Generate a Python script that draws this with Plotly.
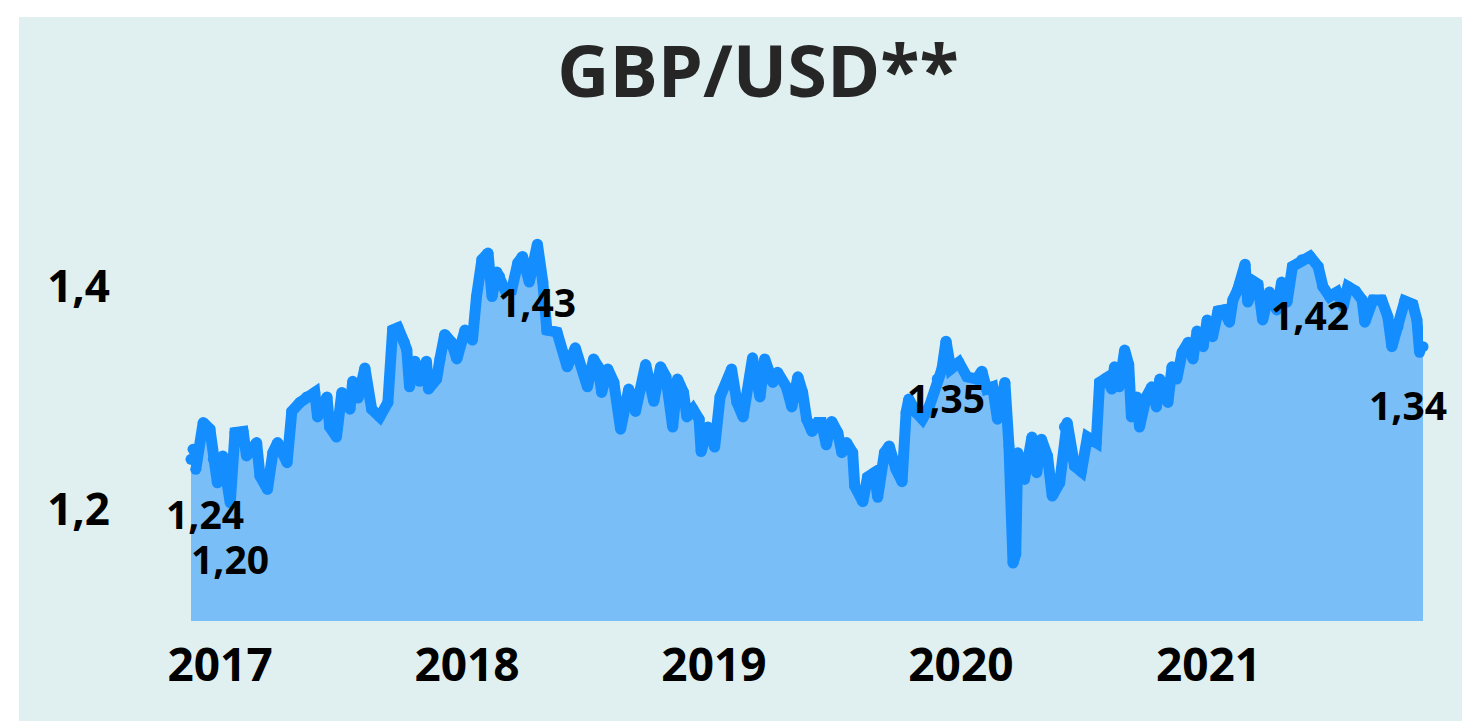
import plotly.graph_objects as go

dates = [
    "2016-11-19", "2016-11-22", "2016-11-26", "2016-12-07", "2016-12-17", "2016-12-22", "2016-12-28",
    "2017-01-05", "2017-01-16", "2017-01-23", "2017-02-04", "2017-02-09", "2017-02-24", "2017-03-01",
    "2017-03-12", "2017-03-20", "2017-03-27", "2017-04-10", "2017-04-17", "2017-04-29", "2017-05-09",
    "2017-05-21", "2017-05-25", "2017-06-08", "2017-06-12", "2017-06-22", "2017-06-30", "2017-07-12",
    "2017-07-16", "2017-07-24", "2017-08-03", "2017-08-13", "2017-08-25", "2017-09-06", "2017-09-13",
    "2017-09-21", "2017-09-30", "2017-10-04", "2017-10-08", "2017-10-16", "2017-10-23", "2017-11-02",
    "2017-11-05", "2017-11-17", "2017-11-22", "2017-11-29", "2017-12-09", "2017-12-17", "2017-12-29",
    "2018-01-09", "2018-01-15", "2018-01-23", "2018-02-01", "2018-02-07", "2018-02-14", "2018-02-18",
    "2018-02-26", "2018-03-08", "2018-03-17", "2018-03-24", "2018-04-03", "2018-04-15", "2018-04-23",
    "2018-04-29", "2018-05-14", "2018-05-29", "2018-06-10", "2018-06-28", "2018-07-07", "2018-07-14",
    "2018-07-19", "2018-07-28", "2018-08-06", "2018-08-16", "2018-08-28", "2018-09-07", "2018-09-22",
    "2018-10-04", "2018-10-14", "2018-10-22", "2018-11-01", "2018-11-08", "2018-11-17", "2018-11-22",
    "2018-12-01", "2018-12-10", "2018-12-13", "2018-12-23", "2019-01-02", "2019-01-10", "2019-01-27",
    "2019-02-04", "2019-02-13", "2019-02-27", "2019-03-10", "2019-03-17", "2019-03-29", "2019-04-05",
    "2019-04-18", "2019-04-26", "2019-05-05", "2019-05-12", "2019-05-18", "2019-05-26", "2019-06-03",
    "2019-06-09", "2019-06-16", "2019-06-24", "2019-07-03", "2019-07-09", "2019-07-16", "2019-07-25",
    "2019-07-28", "2019-08-09", "2019-08-16", "2019-08-26", "2019-08-31", "2019-09-10", "2019-09-17",
    "2019-09-27", "2019-10-06", "2019-10-12", "2019-10-16", "2019-10-27", "2019-11-05", "2019-11-15",
    "2019-11-27", "2019-12-04", "2019-12-10", "2019-12-17", "2019-12-29", "2020-01-10", "2020-01-24",
    "2020-02-01", "2020-02-08", "2020-02-17", "2020-02-24", "2020-03-06", "2020-03-12", "2020-03-18",
    "2020-03-22", "2020-03-25", "2020-04-04", "2020-04-15", "2020-04-22", "2020-04-29", "2020-05-08",
    "2020-05-15", "2020-05-26", "2020-06-02", "2020-06-06", "2020-06-17", "2020-06-27", "2020-07-06",
    "2020-07-19", "2020-07-24", "2020-08-03", "2020-08-11", "2020-08-15", "2020-08-22", "2020-08-30",
    "2020-09-05", "2020-09-09", "2020-09-17", "2020-09-21", "2020-10-01", "2020-10-09", "2020-10-16",
    "2020-10-21", "2020-11-02", "2020-11-08", "2020-11-15", "2020-11-23", "2020-12-02", "2020-12-09",
    "2020-12-15", "2020-12-24", "2020-12-30", "2021-01-07", "2021-01-15", "2021-01-23", "2021-02-01",
    "2021-02-06", "2021-02-13", "2021-02-24", "2021-02-28", "2021-03-10", "2021-03-15", "2021-03-22",
    "2021-04-01", "2021-04-12", "2021-04-19", "2021-04-27", "2021-05-05", "2021-05-19", "2021-05-31",
    "2021-06-12", "2021-06-19", "2021-06-29", "2021-07-10", "2021-07-19", "2021-07-26", "2021-08-06",
    "2021-08-16", "2021-08-20", "2021-09-01", "2021-09-14", "2021-09-23", "2021-09-29", "2021-10-08",
    "2021-10-18", "2021-10-30", "2021-11-05", "2021-11-09", "2021-11-14",
]

gbpusd = [
    1.245, 1.254, 1.236, 1.278, 1.272, 1.245, 1.224,
    1.248, 1.206, 1.269, 1.270, 1.248, 1.260, 1.230,
    1.218, 1.251, 1.260, 1.242, 1.288, 1.296, 1.301,
    1.305, 1.283, 1.301, 1.274, 1.265, 1.305, 1.290,
    1.315, 1.300, 1.327, 1.290, 1.283, 1.296, 1.361,
    1.363, 1.350, 1.343, 1.310, 1.333, 1.315, 1.333,
    1.308, 1.317, 1.335, 1.357, 1.350, 1.335, 1.361,
    1.352, 1.391, 1.424, 1.430, 1.391, 1.413, 1.409,
    1.397, 1.397, 1.421, 1.427, 1.404, 1.438, 1.404,
    1.361, 1.359, 1.328, 1.345, 1.310, 1.335, 1.328,
    1.305, 1.326, 1.314, 1.272, 1.308, 1.288, 1.330,
    1.297, 1.328, 1.319, 1.274, 1.317, 1.305, 1.283,
    1.290, 1.281, 1.252, 1.274, 1.256, 1.301, 1.326,
    1.296, 1.283, 1.336, 1.301, 1.335, 1.314, 1.323,
    1.310, 1.292, 1.319, 1.305, 1.281, 1.270, 1.278,
    1.278, 1.258, 1.279, 1.269, 1.251, 1.260, 1.251,
    1.221, 1.207, 1.229, 1.233, 1.211, 1.251, 1.257,
    1.236, 1.225, 1.287, 1.299, 1.287, 1.281, 1.292,
    1.317, 1.326, 1.351, 1.326, 1.332, 1.319, 1.317,
    1.324, 1.308, 1.310, 1.281, 1.314, 1.257, 1.152,
    1.160, 1.251, 1.227, 1.265, 1.233, 1.263, 1.248,
    1.212, 1.224, 1.274, 1.278, 1.239, 1.234, 1.265,
    1.260, 1.314, 1.318, 1.308, 1.328, 1.310, 1.343,
    1.330, 1.283, 1.301, 1.274, 1.301, 1.310, 1.292,
    1.317, 1.296, 1.328, 1.317, 1.341, 1.350, 1.335,
    1.360, 1.346, 1.370, 1.355, 1.378, 1.379, 1.368,
    1.388, 1.397, 1.420, 1.386, 1.404, 1.402, 1.370,
    1.395, 1.379, 1.404, 1.386, 1.418, 1.424, 1.427,
    1.418, 1.400, 1.391, 1.395, 1.382, 1.400, 1.396,
    1.388, 1.368, 1.388, 1.388, 1.373, 1.346, 1.364,
    1.387, 1.384, 1.370, 1.341, 1.346,
]

# labelled points (date of the point in the series, label text)
label_dates = ["2016-11-19", "2017-01-16", "2018-04-15", "2019-12-10", "2021-05-31", "2021-11-14"]
label_texts = ["1,24", "1,20", "1,43", "1,35", "1,42", "1,34"]

year_ticks = ["2017-01-01", "2018-01-01", "2019-01-01", "2020-01-01", "2021-01-01"]
year_labels = ["2017", "2018", "2019", "2020", "2021"]
y_ticks = [1.2, 1.4]
y_labels = ["1,2", "1,4"]

LINE = "#148EFF"
FILL = "#7ABEF8"
BG = "#E0EFEF"
FONT = "Open Sans"

fig = go.Figure()
fig.add_trace(go.Scatter(
    x=dates, y=gbpusd, mode="lines+markers",
    line=dict(color=LINE, width=11, shape="linear"),
    marker=dict(color=LINE, size=11, line=dict(width=0)),
    fill="tozeroy", fillcolor=FILL, cliponaxis=False,
    hoverinfo="x+y", showlegend=False,
))

label_shift_x = [14, 0, 0, 0, 0, -15]
label_shift_y = [-54, -55, -57, -56, -58, -57]
for d, t, sx, sy in zip(label_dates, label_texts, label_shift_x, label_shift_y):
    v = gbpusd[dates.index(d)]
    fig.add_annotation(
        x=d, y=v, xref="x", yref="y", text=f"<b>{t}</b>", showarrow=False,
        xanchor="center", yanchor="middle", xshift=sx, yshift=sy,
        height=42, valign="middle",
        font=dict(family=FONT, size=39, color="#000000"),
    )

# figure is placed at (8, 8) inside the page
W, H = 1462, 713
L, R, T, B = 183, 47, 133, 100
pw, ph = W - L - R, H - T - B
fig.add_shape(
    type="rect", xref="paper", yref="paper", layer="below",
    x0=(11 - L) / pw, x1=(W + 5 - L) / pw, y0=-(B + 5) / ph, y1=(H - B - 9) / ph,
    fillcolor=BG, line=dict(width=0),
)

fig.update_layout(
    width=W, height=H,
    margin=dict(l=L, r=R, t=T, b=B, pad=0),
    paper_bgcolor="white", plot_bgcolor="rgba(0,0,0,0)",
    title=dict(text="<b>GBP/USD**</b>", x=750 / W, xanchor="center", y=1 - 64 / H, yanchor="middle",
               xref="container", yref="container",
               font=dict(family=FONT, size=72, color="#262626")),
    xaxis=dict(
        type="date", range=[dates[0], dates[-1]],
        tickvals=year_ticks, ticktext=year_labels, showgrid=False, zeroline=False,
        showline=False, ticks="", ticklabelstandoff=13,
        tickfont=dict(family=FONT, size=46, color="#000000", weight="bold"),
    ),
    yaxis=dict(
        range=[1.1, 1.5305], tickvals=y_ticks, ticktext=y_labels, showgrid=False,
        zeroline=False, showline=False, ticks="", ticklabelstandoff=80,
        tickfont=dict(family=FONT, size=44, color="#000000", weight="bold"),
    ),
)

fig.write_html("out.html")
